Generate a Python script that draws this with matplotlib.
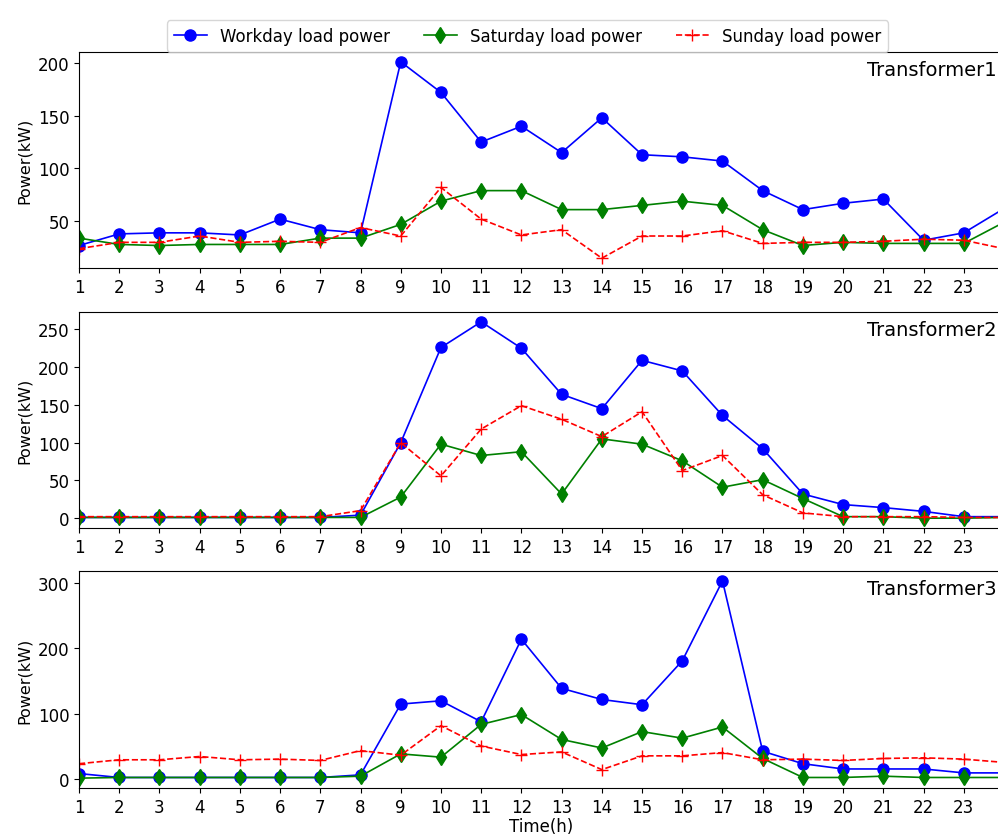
import numpy as np
import matplotlib
matplotlib.use("Agg")
import matplotlib.pyplot as plt

hours = list(range(1, 25))

# transformer 1
t1_workday = [27, 38, 39, 39, 37, 52, 42, 39, 201, 172, 125, 140, 115, 148, 113, 111, 107, 79, 61, 67, 71, 32, 39, 62]
t1_saturday = [34, 28, 27, 28, 28, 28, 34, 34, 47, 69, 79, 79, 61, 61, 65, 69, 65, 42, 27, 30, 29, 29, 29, 49]
t1_sunday = [24, 30, 30, 36, 30, 31, 30, 44, 36, 82, 52, 37, 42, 15, 36, 36, 41, 29, 30, 30, 31, 33, 32, 24]

# transformer 2
t2_workday = [1, 1, 1, 1, 1, 1, 1, 4, 100, 226, 260, 225, 164, 145, 209, 195, 136, 92, 32, 18, 14, 9, 2, 2]
t2_saturday = [1, 1, 1, 1, 1, 1, 1, 1, 28, 98, 83, 88, 32, 105, 98, 76, 41, 51, 26, 2, 2, 0, 0, 1]
t2_sunday = [2, 2, 2, 2, 2, 2, 2, 10, 100, 56, 118, 149, 131, 108, 141, 63, 83, 31, 7, 2, 2, 2, 1, 1]

# transformer 3
t3_workday = [9, 3, 3, 3, 3, 3, 3, 7, 115, 120, 88, 214, 139, 122, 114, 181, 303, 43, 24, 16, 16, 16, 10, 10]
t3_saturday = [2, 3, 3, 3, 3, 3, 3, 5, 39, 34, 84, 99, 61, 48, 73, 63, 80, 32, 3, 3, 5, 3, 3, 3]
t3_sunday = [24, 30, 30, 35, 30, 31, 29, 44, 37, 82, 51, 38, 42, 15, 36, 36, 41, 30, 31, 29, 32, 33, 31, 26]

panels = [
    ("Transformer1", t1_workday, t1_saturday, t1_sunday),
    ("Transformer2", t2_workday, t2_saturday, t2_sunday),
    ("Transformer3", t3_workday, t3_saturday, t3_sunday),
]

plt.rcParams['font.size'] = 12

fig = plt.figure(figsize=(9.98, 8.37), dpi=100)
left = 79 / 998
width = 925 / 998
tops = [53, 313, 572]
bottoms = [269, 529, 789]

axes = []
for (name, wd, sa, su), top, bot in zip(panels, tops, bottoms):
    ax = fig.add_axes([left, 1 - bot / 837, width, (bot - top) / 837])
    ax.plot(hours, wd, 'o-', color='blue', markersize=8, linewidth=1.2, label="Workday load power")
    ax.plot(hours, sa, 'd-', color='green', markersize=8, linewidth=1.2, label="Saturday load power")
    ax.plot(hours, su, '+--', color='red', markersize=8, linewidth=1.2, label="Sunday load power")
    ax.set_xlim(1, 24)
    ax.set_xticks(range(1, 24))
    ax.set_ylabel("Power(kW)", fontsize=11.5)
    ax.tick_params(labelsize=12)
    ax.text(0.9924, 0.965, name, transform=ax.transAxes, ha='right', va='top', fontsize=14)
    axes.append(ax)

axes[0].set_yticks([50, 100, 150, 200])
axes[1].set_yticks([0, 50, 100, 150, 200, 250])
axes[2].set_yticks([0, 100, 200, 300])
axes[2].set_xlabel("Time(h)", fontsize=12, labelpad=1)

handles, labels = axes[0].get_legend_handles_labels()
fig.legend(handles, labels, loc='upper center', ncol=3, fontsize=12,
           bbox_to_anchor=(527.5 / 998, 1 - 13 / 837), columnspacing=2.0)

plt.savefig("out.png", dpi=100)
